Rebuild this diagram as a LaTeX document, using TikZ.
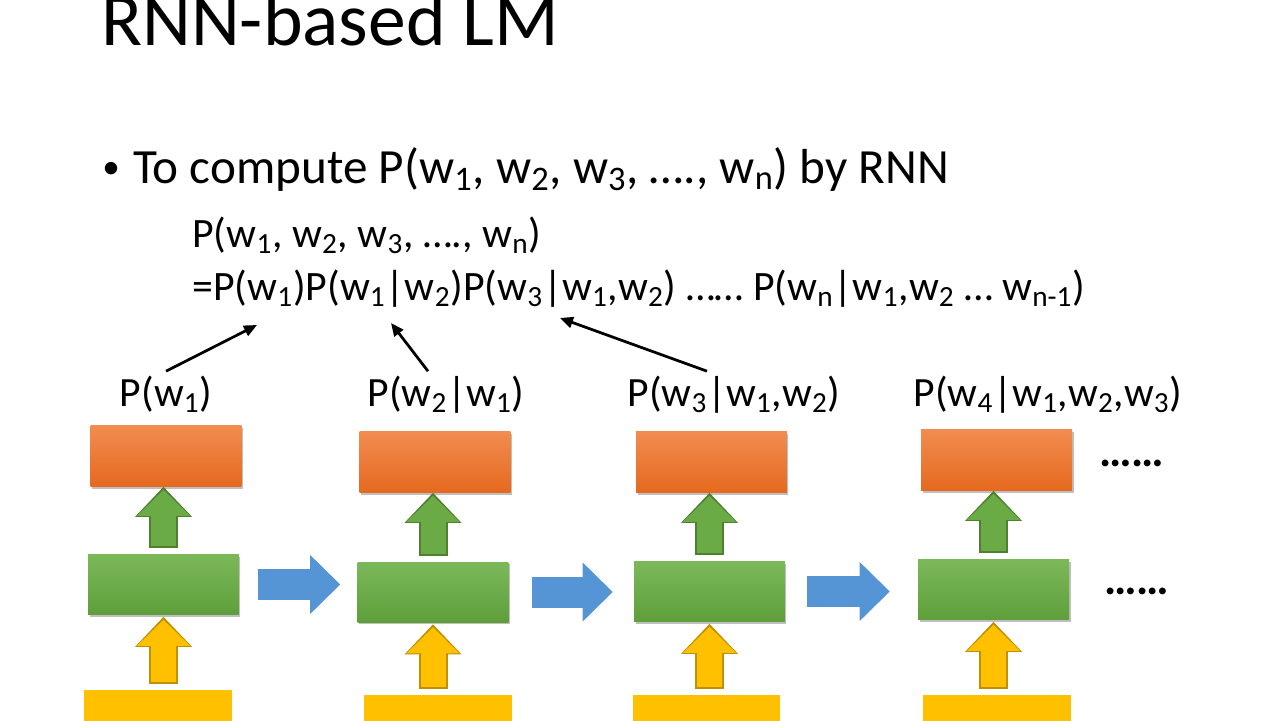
\documentclass[tikz,border=0pt]{standalone}
\usepackage{fontspec}
\setmainfont{Carlito}
\usetikzlibrary{arrows.meta,shadows}

\definecolor{orTop}{HTML}{F28C50}
\definecolor{orBot}{HTML}{E5691E}
\definecolor{grTop}{HTML}{7BB85A}
\definecolor{grBot}{HTML}{5E9F3A}
\definecolor{grArr}{HTML}{6AAB46}
\definecolor{grEdge}{HTML}{4F7F31}
\definecolor{ylFill}{HTML}{FFC000}
\definecolor{ylEdge}{HTML}{BF9000}
\definecolor{blArr}{HTML}{5595D6}

\newcommand\wi[1]{w\textsubscript{#1}}

\tikzset{
    boxshadow/.style={drop shadow={shadow xshift=0.03cm, shadow yshift=-0.04cm, opacity=0.25, fill=black}},
    outbox/.style={minimum width=3.02cm, minimum height=1.22cm, inner sep=0pt, top color=orTop, bottom color=orBot, boxshadow},
    hidbox/.style={minimum width=3.02cm, minimum height=1.2cm, inner sep=0pt, top color=grTop, bottom color=grBot, boxshadow},
    inbox/.style={minimum width=2.96cm, minimum height=1.2cm, inner sep=0pt, fill=ylFill},
    upedge/.style={line width=0.58cm, -{Triangle[length=0.6cm 0 0, width=1.14cm 0 0, line width=0pt]}},
    upfill/.style={line width=0.5cm, -{Triangle[length=0.52cm 0 0, width=1.06cm 0 0, line width=0pt]}},
    recur/.style={blArr, line width=0.62cm, -{Triangle[length=0.6cm 0 0, width=1.18cm 0 0, line width=0pt]}},
    ptr/.style={black, line width=0.055cm, -{Triangle[length=0.26cm 0 0, width=0.22cm 0 0]}},
    ttl/.style={anchor=base west, inner sep=0pt, font=\fontsize{43}{48}\selectfont},
    bul/.style={anchor=base west, inner sep=0pt, font=\fontsize{28}{33}\selectfont},
    frm/.style={anchor=base west, inner sep=0pt, font=\fontsize{23.8}{28}\selectfont},
    lbl/.style={anchor=base, inner sep=0.08cm, font=\fontsize{23.7}{28}\selectfont},
    more/.style={anchor=base west, inner sep=0pt, font=\fontsize{26}{30}\selectfont\bfseries}
}

\begin{document}
\begin{tikzpicture}[x=0.02cm, y=-0.02cm]
    \useasboundingbox (0,0) rectangle (1280,720);
    \fill[white] (0,0) rectangle (1280,720);
    \clip (0,0) rectangle (1280,720);

    % title and bullet
    \node[ttl] (title) at (101,45) {RNN-based LM};
    \node[bul, font=\fontsize{20}{24}\selectfont] (dot) at (102,178) {•};
    \node[bul] (goal) at (133,183) {To compute P(\wi{1}, \wi{2}, \wi{3}, …., \wi{n}) by RNN};

    % chain rule
    \node[frm] (joint) at (192,247) {P(\wi{1}, \wi{2}, \wi{3}, …., \wi{n})};
    \node[frm] (chain) at (192,300) {=P(\wi{1})P(\wi{1}|\wi{2})P(\wi{3}|\wi{1},\wi{2}) …… P(\wi{n}|\wi{1},\wi{2} … \wi{n-1})};

    % output probabilities
    \node[lbl] (l1) at (166,406) {P(\wi{1})};
    \node[lbl] (l2) at (446,406) {P(\wi{2}|\wi{1})};
    \node[lbl] (l3) at (734,406) {P(\wi{3}|\wi{1},\wi{2})};
    \node[lbl] (l4) at (1048,406) {P(\wi{4}|\wi{1},\wi{2},\wi{3})};

    \coordinate (t1) at (257,325);
    \coordinate (t2) at (391,323);
    \coordinate (t3) at (560,318);
    \draw[ptr] (l1.north) -- (t1);
    \draw[ptr] ([xshift=-0.36cm]l2.north) -- (t2);
    \draw[ptr] ([xshift=-0.54cm]l3.north) -- (t3);

    % boxes
    \node[outbox] (o1) at (166,456) {};
    \node[outbox] (o2) at (435,462) {};
    \node[outbox] (o3) at (711.5,462) {};
    \node[outbox] (o4) at (996.5,460) {};
    \node[hidbox] (h1) at (163.5,584.5) {};
    \node[hidbox] (h2) at (433,592) {};
    \node[hidbox] (h3) at (709.5,591.5) {};
    \node[hidbox] (h4) at (993.5,589.5) {};
    \node[inbox] (x1) at (158,720) {};
    \node[inbox] (x2) at (438,725) {};
    \node[inbox] (x3) at (706.5,725) {};
    \node[inbox] (x4) at (996.5,725) {};

    % hidden -> output
    \draw[upedge, grEdge, shorten <=0.12cm] (h1.north) -- (h1.north |- o1.south);
    \draw[upfill, grArr, shorten <=0.16cm, shorten >=0.06cm] (h1.north) -- (h1.north |- o1.south);
    \draw[upedge, grEdge, shorten <=0.12cm] (h2.north) -- (h2.north |- o2.south);
    \draw[upfill, grArr, shorten <=0.16cm, shorten >=0.06cm] (h2.north) -- (h2.north |- o2.south);
    \draw[upedge, grEdge, shorten <=0.12cm] (h3.north) -- (h3.north |- o3.south);
    \draw[upfill, grArr, shorten <=0.16cm, shorten >=0.06cm] (h3.north) -- (h3.north |- o3.south);
    \draw[upedge, grEdge, shorten <=0.12cm] (h4.north) -- (h4.north |- o4.south);
    \draw[upfill, grArr, shorten <=0.16cm, shorten >=0.06cm] (h4.north) -- (h4.north |- o4.south);

    % input -> hidden
    \draw[upedge, ylEdge, shorten <=0.12cm, shorten >=0.04cm] (h1.south |- x1.north) -- (h1.south);
    \draw[upfill, ylFill, shorten <=0.16cm, shorten >=0.1cm] (h1.south |- x1.north) -- (h1.south);
    \draw[upedge, ylEdge, shorten <=0.12cm, shorten >=0.04cm] (h2.south |- x2.north) -- (h2.south);
    \draw[upfill, ylFill, shorten <=0.16cm, shorten >=0.1cm] (h2.south |- x2.north) -- (h2.south);
    \draw[upedge, ylEdge, shorten <=0.12cm, shorten >=0.04cm] (h3.south |- x3.north) -- (h3.south);
    \draw[upfill, ylFill, shorten <=0.16cm, shorten >=0.1cm] (h3.south |- x3.north) -- (h3.south);
    \draw[upedge, ylEdge, shorten <=0.12cm, shorten >=0.04cm] (h4.south |- x4.north) -- (h4.south);
    \draw[upfill, ylFill, shorten <=0.16cm, shorten >=0.1cm] (h4.south |- x4.north) -- (h4.south);

    % hidden -> hidden
    \draw[recur, shorten <=0.38cm, shorten >=0.34cm] (h1.east) -- (h1.east -| h2.west);
    \draw[recur, shorten <=0.46cm, shorten >=0.42cm] (h2.east) -- (h2.east -| h3.west);
    \draw[recur, shorten <=0.44cm, shorten >=0.56cm] (h3.east) -- (h3.east -| h4.west);

    \node[more] (m1) at (1099,466) {……};
    \node[more] (m2) at (1104,594) {……};
\end{tikzpicture}
\end{document}
